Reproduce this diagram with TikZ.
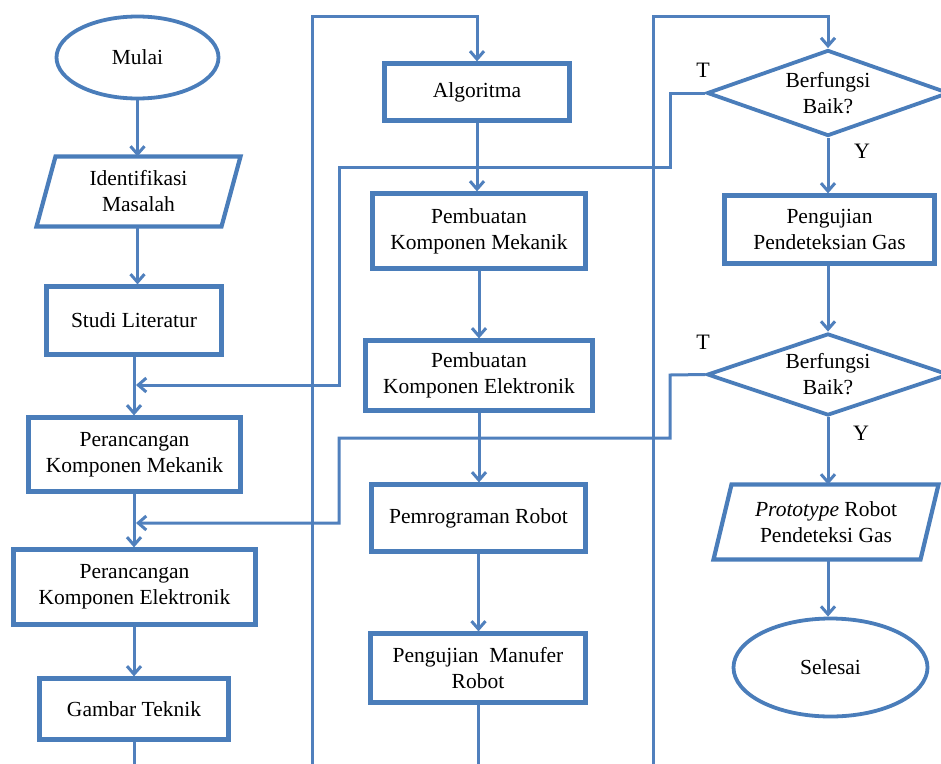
\documentclass[tikz,border=0pt]{standalone}
\usepackage{fontspec}
\setmainfont{Liberation Serif}
\usetikzlibrary{shapes.geometric,arrows.meta,calc}
\definecolor{boxblue}{RGB}{74,125,186}
\definecolor{lineblue}{RGB}{80,128,189}
\begin{document}
\begin{tikzpicture}[x=1pt,y=-1pt,
  every node/.style={font=\fontsize{21.5}{26}\selectfont, align=center, text=black},
  box/.style 2 args={rectangle, draw=boxblue, line width=4.2pt, fill=white, minimum width=#1, minimum height=#2, inner sep=0pt},
  term/.style 2 args={ellipse, draw=boxblue, line width=3.8pt, fill=white, minimum width=#1, minimum height=#2, inner sep=0pt},
  dec/.style 2 args={diamond, aspect=2.8, draw=boxblue, line width=3.8pt, fill=white, minimum width=#1, minimum height=#2, inner sep=0pt},
  io/.style 2 args={rectangle, minimum width=#1, minimum height=#2, inner sep=0pt, outer sep=0pt},
  iobord/.style={draw=boxblue, line width=4.2pt, line join=miter},
  conn/.style={draw=lineblue, line width=3pt},
  arr/.style={conn, -{Straight Barb[length=8pt,width=14pt]}},
  lab/.style={font=\fontsize{22}{26}\selectfont}
]
\useasboundingbox (0,0) rectangle (941,763);
\clip (0,0) rectangle (941,763);

% left column
\node[term={162}{82}] (mulai) at (137.5,57.5) {Mulai};
\node[io={204}{70}] (ident) at (138.5,191.5) {Identifikasi\\Masalah};
\draw[iobord] ([xshift=19pt]ident.north west) -- (ident.north east) -- ([xshift=-19pt]ident.south east) -- (ident.south west) -- cycle;
\node[box={175}{68}] (studi) at (134,320.5) {Studi Literatur};
\node[box={212}{74}] (pmek) at (134.5,454.5) {Perancangan\\Komponen Mekanik};
\node[box={242}{75}] (pelek) at (134.5,587) {Perancangan\\Komponen Elektronik};
\node[box={189}{61}] (gambar) at (134,709) {Gambar Teknik};

% middle column
\node[box={185}{57}] (algo) at (477,92) {Algoritma};
\node[box={213}{75}] (bmek) at (479,231) {Pembuatan\\Komponen Mekanik};
\node[box={227}{70}] (belek) at (479,375.5) {Pembuatan\\Komponen Elektronik};
\node[box={214}{67}] (prog) at (478.5,518) {Pemrograman Robot};
\node[box={215}{69}] (manuf) at (478,668) {Pengujian~ Manufer\\Robot};

% right column
\node[dec={242}{86}] (d1) at (828,93) {Berfungsi\\Baik?};
\node[box={210}{68}] (uji) at (829.5,229.5) {Pengujian\\Pendeteksian Gas};
\node[dec={242}{82}] (d2) at (828,374.5) {Berfungsi\\Baik?};
\node[io={225}{75}] (proto) at (826,522) {\textit{Prototype} Robot\\Pendeteksi Gas};
\draw[iobord] ([xshift=18pt]proto.north west) -- (proto.north east) -- ([xshift=-18pt]proto.south east) -- (proto.south west) -- cycle;
\node[term={194}{98}] (selesai) at (830.5,667.5) {Selesai};

% labels
\node[lab] (t1) at (703,70) {T};
\node[lab] (y1) at (862,151) {Y};
\node[lab] (t2) at (703,342) {T};
\node[lab] (y2) at (861,433) {Y};

% helper coordinates
\coordinate (j1) at (136,385);
\coordinate (j2) at (136,523);
\coordinate (a1) at (670,93);
\coordinate (a2) at (670,167);
\coordinate (a3) at (339,167);
\coordinate (a4) at (339,385);
\coordinate (c1) at (670,375);
\coordinate (c2) at (670,438);
\coordinate (c3) at (339,438);
\coordinate (c4) at (339,523);
\coordinate (g1) at (134,790);
\coordinate (g2) at (312,790);
\coordinate (g3) at (312,16);
\coordinate (m1) at (478,790);
\coordinate (m2) at (653,790);
\coordinate (m3) at (653,16);

% left column flow
\draw[arr] (mulai.south) -- (mulai.south |- ident.north);
\draw[arr] (ident.south -| mulai.south) -- (mulai.south |- studi.north);
\draw[arr] (studi.south) -- (studi.south |- pmek.north);
\draw[arr] (pmek.south -| studi.south) -- (studi.south |- pelek.north);
\draw[arr] (pelek.south -| studi.south) -- (studi.south |- gambar.north);
\draw[arr] (gambar.south) -- (g1) -- (g2) -- (g3) -| (algo.north);

% middle column flow
\draw[arr] (algo.south) -- (algo.south |- bmek.north);
\draw[arr] (bmek.south) -- (bmek.south |- belek.north);
\draw[arr] (belek.south) -- (belek.south |- prog.north);
\draw[arr] (prog.south) -- (prog.south |- manuf.north);
\draw[arr] (manuf.south) -- (m1) -- (m2) -- (m3) -| (d1.north);

% right column flow
\draw[arr] (d1.south) -- (d1.south |- uji.north);
\draw[arr] (uji.south -| d1.south) -- (d2.north);
\draw[arr] (d2.south) -- (d2.south |- proto.north);
\draw[arr] (proto.south -| d2.south) -- (d2.south |- selesai.north);

% feedback loops
\draw[arr] (d1.west) -- (a1) -- (a2) -- (a3) -- (a4) -- (j1);
\draw[arr] (d2.west) -- (c1) -- (c2) -- (c3) -- (c4) -- (j2);
\end{tikzpicture}
\end{document}
